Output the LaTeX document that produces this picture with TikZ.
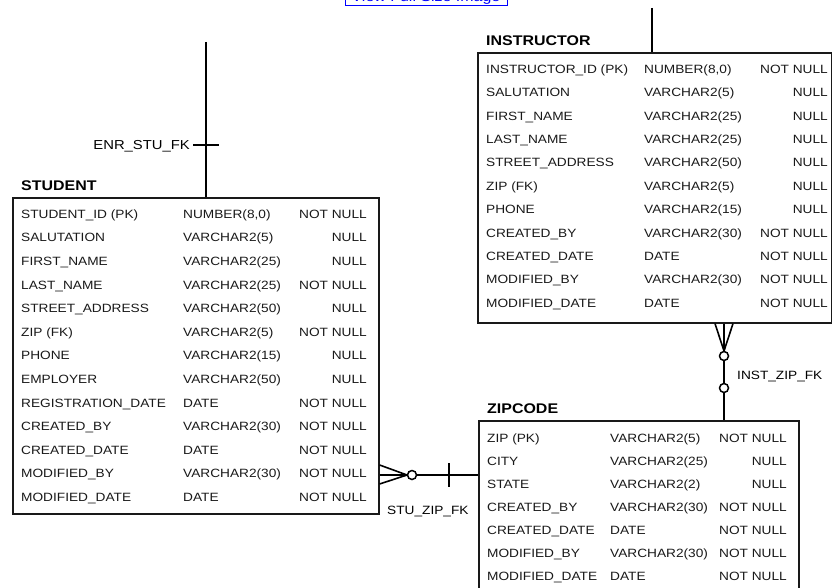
\documentclass[tikz,border=0pt]{standalone}
\usepackage{fontspec}
\setmainfont{Liberation Sans}[FakeStretch=1.14]
\usetikzlibrary{positioning,calc}

\begin{document}
\begin{tikzpicture}[x=1pt,y=-1pt,
tbl/.style={draw=black!90,line width=1.6pt,anchor=north west,inner sep=0pt},
ttl/.style={font=\fontsize{14}{16}\selectfont\bfseries,anchor=base west,inner sep=0pt},
cell/.style={font=\fontsize{12}{14}\selectfont,text=black!90,inner sep=0pt,text height=8.6pt,text depth=0pt},
lbl/.style={cell,text=black},
rel/.style={line width=1.6pt},
ring/.style={circle,draw,line width=1.5pt,fill=white,inner sep=0pt,minimum size=9pt}]
\clip (0,0) rectangle (832,588);
\node[draw=blue,text=blue,font=\fontsize{14}{16}\selectfont,inner xsep=3pt,inner ysep=.5pt,minimum width=162pt,anchor=south](link) at (426,5.5){View Full Size Image};
% tables
\node[tbl,minimum width=366pt,minimum height=316pt](stu) at (12,197){};
\node[tbl,minimum width=354pt,minimum height=270pt](ins) at (477,52){};
\node[tbl,minimum width=320pt,minimum height=175pt](zip) at (478,420){};
\node[ttl](stuttl) at ($(stu.north west)+(9,-6)$){STUDENT};
\node[ttl](insttl) at ($(ins.north west)+(9,-6)$){INSTRUCTOR};
\node[ttl](zipttl) at ($(zip.north west)+(9,-7)$){ZIPCODE};
\foreach \fld/\typ/\nul [count=\i from 0] in {STUDENT\_ID (PK)/{NUMBER(8,0)}/NOT NULL,
  SALUTATION/VARCHAR2(5)/NULL, FIRST\_NAME/VARCHAR2(25)/NULL, LAST\_NAME/VARCHAR2(25)/NOT NULL,
  STREET\_ADDRESS/VARCHAR2(50)/NULL, ZIP (FK)/VARCHAR2(5)/NOT NULL, PHONE/VARCHAR2(15)/NULL,
  EMPLOYER/VARCHAR2(50)/NULL, REGISTRATION\_DATE/DATE/NOT NULL, CREATED\_BY/VARCHAR2(30)/NOT NULL,
  CREATED\_DATE/DATE/NOT NULL, MODIFIED\_BY/VARCHAR2(30)/NOT NULL, MODIFIED\_DATE/DATE/NOT NULL}{
  \node[cell,anchor=west](stu-f\i) at ($(stu.north west)+(9,17+23.6*\i)$){\fld};
  \node[cell,anchor=west](stu-t\i) at ($(stu.north west)+(171,17+23.6*\i)$){\typ};
  \node[cell,anchor=east](stu-n\i) at ($(stu.north west)+(355,17+23.6*\i)$){\nul};}
\foreach \fld/\typ/\nul [count=\i from 0] in {INSTRUCTOR\_ID (PK)/{NUMBER(8,0)}/NOT NULL,
  SALUTATION/VARCHAR2(5)/NULL, FIRST\_NAME/VARCHAR2(25)/NULL, LAST\_NAME/VARCHAR2(25)/NULL,
  STREET\_ADDRESS/VARCHAR2(50)/NULL, ZIP (FK)/VARCHAR2(5)/NULL, PHONE/VARCHAR2(15)/NULL,
  CREATED\_BY/VARCHAR2(30)/NOT NULL, CREATED\_DATE/DATE/NOT NULL, MODIFIED\_BY/VARCHAR2(30)/NOT NULL,
  MODIFIED\_DATE/DATE/NOT NULL}{
  \node[cell,anchor=west](ins-f\i) at ($(ins.north west)+(9,17+23.4*\i)$){\fld};
  \node[cell,anchor=west](ins-t\i) at ($(ins.north west)+(167,17+23.4*\i)$){\typ};
  \node[cell,anchor=east](ins-n\i) at ($(ins.north west)+(351,17+23.4*\i)$){\nul};}
\foreach \fld/\typ/\nul [count=\i from 0] in {ZIP (PK)/VARCHAR2(5)/NOT NULL,
  CITY/VARCHAR2(25)/NULL, STATE/VARCHAR2(2)/NULL, CREATED\_BY/VARCHAR2(30)/NOT NULL,
  CREATED\_DATE/DATE/NOT NULL, MODIFIED\_BY/VARCHAR2(30)/NOT NULL, MODIFIED\_DATE/DATE/NOT NULL}{
  \node[cell,anchor=west](zip-f\i) at ($(zip.north west)+(9,18+23*\i)$){\fld};
  \node[cell,anchor=west](zip-t\i) at ($(zip.north west)+(132,18+23*\i)$){\typ};
  \node[cell,anchor=east](zip-n\i) at ($(zip.north west)+(309,18+23*\i)$){\nul};}
% ENR_STU_FK
\coordinate(enr) at (206,42);\coordinate(enrtk) at (206,145);
\draw[rel](enr)--(enr |- stu.north);
\draw[rel]([xshift=-13pt]enrtk)--([xshift=13pt]enrtk);
\node[lbl,font=\fontsize{13}{15}\selectfont,left=16pt of enrtk](enrlbl){ENR\_STU\_FK};
% instructor, upper link
\coordinate(instop) at (652,8);
\draw[rel](instop)--(instop |- ins.north);
% INST_ZIP_FK
\coordinate(izcf) at (724,351);
\draw[rel]($(izcf |- ins.south)+(-9,0)$)--(izcf)--($(izcf |- ins.south)+(9,0)$);
\draw[rel](izcf |- ins.south)--(izcf);
\node[ring](izr1) at (724,356){};\node[ring](izr2) at (724,388){};
\draw[rel](izr1)--(izr2);\draw[rel](izr2)--(izr2 |- zip.north);
\node[lbl,anchor=west](izlbl) at (737,375){INST\_ZIP\_FK};
% STU_ZIP_FK
\coordinate(szcf) at (407,475);\coordinate(sztk) at (449,475);
\draw[rel]($(szcf -| stu.east)+(0,-10)$)--(szcf)--($(szcf -| stu.east)+(0,9)$);
\draw[rel](szcf -| stu.east)--(szcf);
\node[ring](szr) at (412,475){};
\draw[rel](szr)--(szr -| zip.west);
\draw[rel]([yshift=12pt]sztk)--([yshift=-12pt]sztk);
\node[lbl,anchor=west](szlbl) at (387,510){STU\_ZIP\_FK};
\end{tikzpicture}
\end{document}
